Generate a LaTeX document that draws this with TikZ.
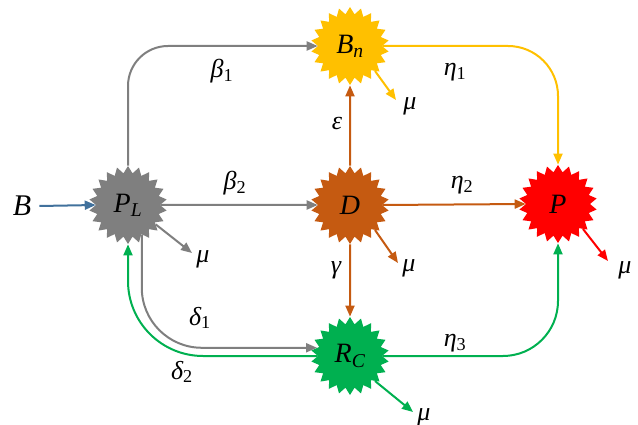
\documentclass[tikz,border=0pt]{standalone}
\usepackage{fontspec}
\setmainfont{Liberation Serif}
\usetikzlibrary{shapes.geometric,arrows.meta}
\definecolor{cgray}{HTML}{7F7F7F}
\definecolor{cyellow}{HTML}{FFC000}
\definecolor{corange}{HTML}{C55A11}
\definecolor{cred}{HTML}{FF0000}
\definecolor{cgreen}{HTML}{00B050}
\definecolor{cblue}{HTML}{41719C}
\begin{document}
\begin{tikzpicture}[x=1pt,y=-1pt,
  blob/.style={star, star points=22, star point ratio=1.22, minimum size=78pt, inner sep=0pt, draw=none, font=\fontsize{28}{30}\selectfont\itshape},
  lab/.style={font=\fontsize{26}{28}\selectfont\itshape, inner sep=0pt},
  arr/.style={line width=2pt, -{Triangle[length=11pt,width=9pt]}},
]
\useasboundingbox (0,0) rectangle (638,425);
\node[blob, fill=cgray] (PL) at (128,205) {P\textsubscript{L}};
\node[blob, fill=cyellow] (Bn) at (350,46) {B\textsubscript{n}};
\node[blob, fill=corange] (D) at (350,205) {D};
\node[blob, fill=cred] (P) at (558,204) {P};
\node[blob, fill=cgreen] (RC) at (350,356) {R\textsubscript{C}};
\node[lab, font=\fontsize{30}{32}\selectfont\itshape] (B) at (22,206) {B};
% mu tips and labels
\coordinate (tPL) at (192,253);
\coordinate (tBn) at (396,100);
\coordinate (tD) at (398,263);
\coordinate (tP) at (608,261);
\coordinate (tRC) at (413,412);
\node[lab] (mPL) at (203,259) {μ};
\node[lab] (mBn) at (410,106) {μ};
\node[lab] (mD) at (409,268) {μ};
\node[lab] (mP) at (625,270) {μ};
\node[lab] (mRC) at (424,417) {μ};
% rate labels
\node[lab] (b1) at (222,71) {β\textsubscript{\upshape 1}};
\node[lab] (b2) at (235,183) {β\textsubscript{\upshape 2}};
\node[lab] (d1) at (200,318) {δ\textsubscript{\upshape 1}};
\node[lab] (d2) at (182,372) {δ\textsubscript{\upshape 2}};
\node[lab] (e1) at (455,72) {η\textsubscript{\upshape 1}};
\node[lab] (e2) at (462,185) {η\textsubscript{\upshape 2}};
\node[lab] (e3) at (455,343) {η\textsubscript{\upshape 3}};
\node[lab] (ep) at (337,124) {ε};
\node[lab] (ga) at (336,270) {γ};
% connectors
\draw[arr, cblue] (B.east) ++(8,0) -- (PL.west);
\draw[arr, cgray, rounded corners=40pt] (PL.north) |- (Bn.west);
\draw[arr, cgray] (PL.east) -- (D.west);
\draw[arr, cgray, rounded corners=60pt] (PL.-65) |- (RC.166);
\draw[arr, cgreen, rounded corners=75pt] (RC.west) -| (PL.south);
\draw[arr, cyellow, rounded corners=50pt] (Bn.east) -| (P.north);
\draw[arr, cgreen, rounded corners=55pt] (RC.east) -| (P.south);
\draw[arr, corange] (D.north) -- (Bn.south);
\draw[arr, corange] (D.east) -- (P.west);
\draw[arr, corange] (D.south) -- (RC.north);
\draw[arr, cgray] (PL.-35) -- (tPL);
\draw[arr, cyellow] (Bn.-45) -- (tBn);
\draw[arr, corange] (D.-45) -- (tD);
\draw[arr, cred] (P.-45) -- (tP);
\draw[arr, cgreen] (RC.-45) -- (tRC);
\end{tikzpicture}
\end{document}
